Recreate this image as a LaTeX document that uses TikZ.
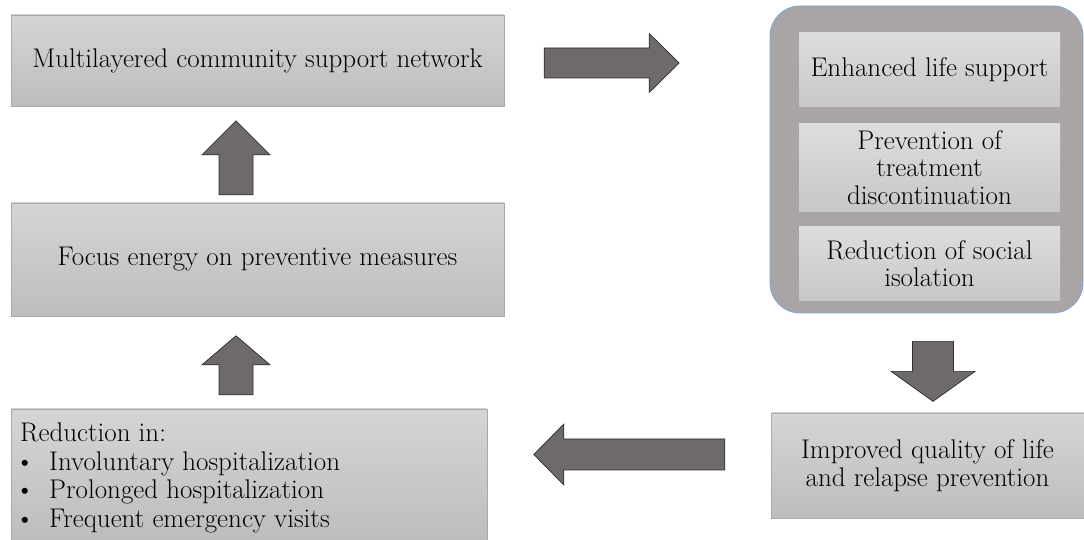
\documentclass[tikz,border=0pt]{standalone}
\usepackage{tikz}
\usetikzlibrary{positioning}
\definecolor{boxtop}{HTML}{D5D5D5}
\definecolor{boxbot}{HTML}{BDBDBD}
\definecolor{boxline}{HTML}{A8A8A8}
\definecolor{grpfill}{HTML}{A9A5A5}
\definecolor{grpline}{HTML}{7EA6D6}
\definecolor{arrfill}{HTML}{6E6A6A}
\definecolor{arrline}{HTML}{2E2E2E}

\begin{document}
\begin{tikzpicture}[x=1pt,y=1pt,
  box/.style={draw=boxline,top color=boxtop,bottom color=boxbot,inner sep=0pt,
    align=center,font=\fontsize{27}{27.5}\selectfont,text=black},
  inbox/.style={box,draw=none,top color=boxtop!80!white,bottom color=boxbot!85!white,
    minimum width=261,minimum height=74},
  grp/.style={draw=grpline,fill=grpfill,rounded corners=30,line width=0.8pt},
  fat/.style={draw=arrline,fill=arrfill,line width=0.7pt,line join=miter}]

\useasboundingbox (0,0) rectangle (1084,540);

  % left column
  \node[box,minimum width=493,minimum height=91]	(net)	at (257.5,479.5)	{Multilayered community support network};
  \node[box,minimum width=493,minimum height=113]	(focus)	at (257.5,280.5)	{Focus energy on preventive measures};
  \node[box,minimum width=476,minimum height=132]	(red)	at (249,65)	{};
  \node[anchor=west,align=left,inner sep=0pt,font=\fontsize{27}{28.5}\selectfont,text=black]	(redtxt)	at (20,62)
    {Reduction in:\\
     \makebox[29pt][l]{\kern-5pt\textbullet}Involuntary hospitalization\\
     \makebox[29pt][l]{\kern-5pt\textbullet}Prolonged hospitalization\\
     \makebox[29pt][l]{\kern-5pt\textbullet}Frequent emergency visits};

  % right column
  \node[grp,minimum width=313,minimum height=307]	(grp)	at (926.5,380.5)	{};
  \node[inbox]	(life)	at (929.5,470)	{Enhanced life support};
  \node[inbox,minimum height=88]	(treat)	[below=16pt of life]	{Prevention of\\treatment\\discontinuation};
  \node[inbox]	(iso)	[below=15pt of treat]	{Reduction of social\\isolation};
  \node[box,minimum width=313,minimum height=105]	(qol)	at (927.5,74.5)	{Improved quality of life\\and relapse prevention};

  % block arrows
  \coordinate (u1) at ([xshift=-21.5pt,yshift=8pt]focus.north);
  \coordinate (u2) at ([xshift=-13pt,yshift=14pt]red.north);
  \coordinate (r1) at ([xshift=40pt,yshift=-2.5pt]net.east);
  \coordinate (d1) at ([xshift=6.5pt,yshift=-28pt]grp.south);
  \coordinate (l1) at ([xshift=-46pt,yshift=11pt]qol.west);

  \draw[fat] (u1) ++(-17,0) -- ++(0,40) -- ++(-17,0) -- ++(34,34) -- ++(34,-34) -- ++(-17,0) -- ++(0,-40) -- cycle;
  \draw[fat] (u2) ++(-17,0) -- ++(0,30) -- ++(-17,0) -- ++(34,29) -- ++(34,-29) -- ++(-17,0) -- ++(0,-30) -- cycle;
  \draw[fat] (r1) ++(0,15) -- ++(105,0) -- ++(0,14.5) -- ++(30,-29.5) -- ++(-30,-29.5) -- ++(0,14.5) -- ++(-105,0) -- cycle;
  \draw[fat] (d1) ++(-20.5,0) -- ++(0,-30) -- ++(-21.5,0) -- ++(42,-30) -- ++(42,30) -- ++(-21.5,0) -- ++(0,30) -- cycle;
  \draw[fat] (l1) ++(0,15.5) -- ++(-161,0) -- ++(0,15) -- ++(-30,-30.5) -- ++(30,-30.5) -- ++(0,15) -- ++(161,0) -- cycle;
\end{tikzpicture}
\end{document}
